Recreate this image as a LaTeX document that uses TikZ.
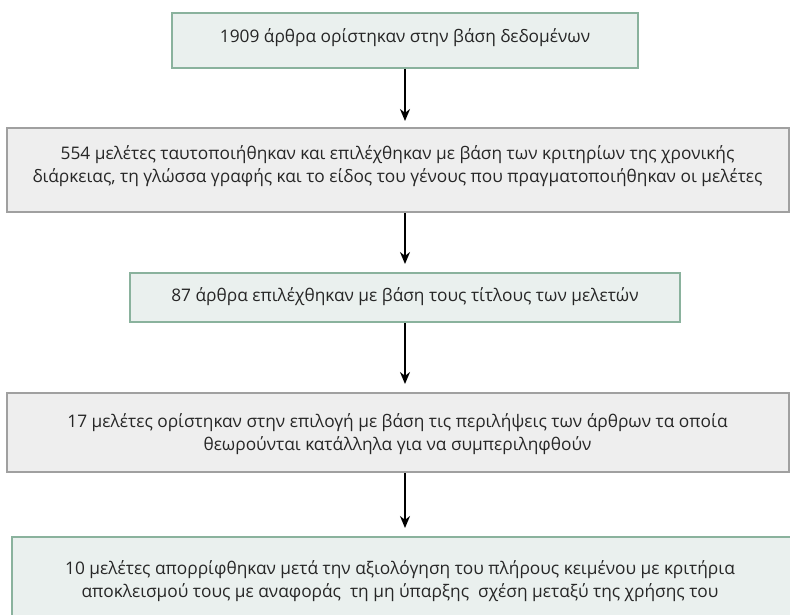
\documentclass[tikz,border=0pt]{standalone}
\usepackage{fontspec}
\setmainfont{Open Sans}
\usetikzlibrary{arrows.meta}
\definecolor{gborder}{HTML}{8AB29D}
\definecolor{gfill}{HTML}{EAF0EE}
\definecolor{rborder}{HTML}{A0A0A0}
\definecolor{rfill}{HTML}{EEEEEE}
\tikzset{
  gbox/.style={draw=gborder, fill=gfill, line width=2pt},
  rbox/.style={draw=rborder, fill=rfill, line width=2pt},
  txt/.style={font=\fontsize{17.3}{23.5}\selectfont, align=center, text=black!85},
  arr/.style={-{Stealth[length=12pt,width=10pt]}, line width=2pt}
}
\begin{document}
\begin{tikzpicture}[x=1pt,y=-1pt]
\useasboundingbox (0,0) rectangle (790,615);
\begin{scope}
\clip (0,0) rectangle (790,615);
\draw[gbox] (172,13) rectangle (638,68);
\node[txt] (t1) at (405,38) {1909 άρθρα ορίστηκαν στην βάση δεδομένων};
\draw[rbox] (7,128) rectangle (789,212);
\node[txt] (t2) at (397.5,166) {554 μελέτες ταυτοποιήθηκαν και επιλέχθηκαν με βάση των κριτηρίων της χρονικής\\διάρκειας, τη γλώσσα γραφής και το είδος του γένους που πραγματοποιήθηκαν οι μελέτες};
\draw[gbox] (130,273) rectangle (680,322);
\node[txt] (t3) at (405,297) {87 άρθρα επιλέχθηκαν με βάση τους τίτλους των μελετών};
\draw[rbox] (7,393) rectangle (789,472);
\node[txt] (t4) at (397.5,434) {17 μελέτες ορίστηκαν στην επιλογή με βάση τις περιλήψεις των άρθρων τα οποία\\θεωρούνται κατάλληλα για να συμπεριληφθούν};
\draw[gbox] (12,537) rectangle (800,640);
\node[txt] (t5) at (400,581) {10 μελέτες απορρίφθηκαν μετά την αξιολόγηση του πλήρους κειμένου με κριτήρια\\αποκλεισμού τους με αναφοράς\ \ τη μη ύπαρξης\ \ σχέση μεταξύ της χρήσης του};
\end{scope}
\coordinate (a1s) at (405,69); \coordinate (a1e) at (405,121);
\coordinate (a2s) at (405,213); \coordinate (a2e) at (405,264);
\coordinate (a3s) at (405,323); \coordinate (a3e) at (405,384);
\coordinate (a4s) at (405,473); \coordinate (a4e) at (405,528);
\draw[arr] (a1s) -- (a1e);
\draw[arr] (a2s) -- (a2e);
\draw[arr] (a3s) -- (a3e);
\draw[arr] (a4s) -- (a4e);
\end{tikzpicture}
\end{document}
